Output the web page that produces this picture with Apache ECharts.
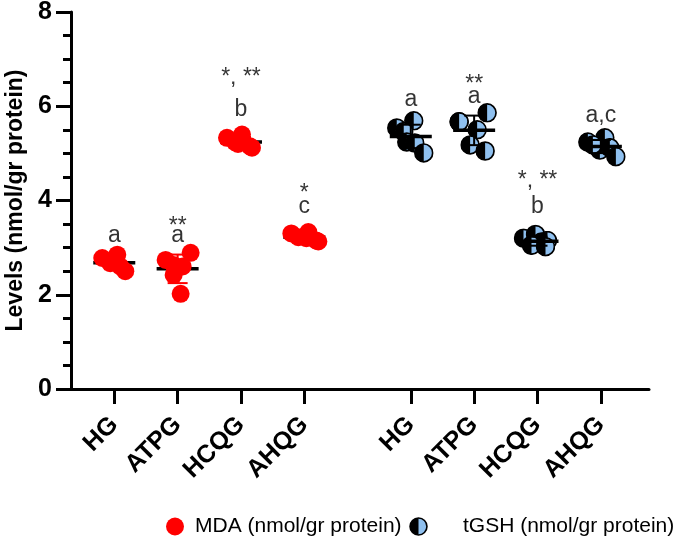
<!DOCTYPE html>
<html><head><meta charset="utf-8">
<script src="https://cdn.jsdelivr.net/npm/echarts@6/dist/echarts.min.js"></script>
<style>html,body{margin:0;padding:0;background:#fff}#c{width:685px;height:547px}</style>
</head><body><div id="c"></div>
<script>
// ---- data ----
const categories = ['HG', 'ATPG', 'HCQG', 'AHQG', 'HG', 'ATPG', 'HCQG', 'AHQG'];
const mdaGroups = [0, 1, 2, 3];
const tgshGroups = [4, 5, 6, 7];
const mdaValues = [
  [2.78, 2.85, 2.67, 2.60, 2.50],
  [2.74, 2.89, 2.63, 2.60, 2.42, 2.02],
  [5.33, 5.40, 5.24, 5.15, 5.12, 5.20],
  [3.30, 3.33, 3.22, 3.15, 3.13, 3.20]
];
const tgshValues = [
  [5.54, 5.69, 5.46, 5.24, 5.22, 5.01],
  [5.67, 5.50, 5.67, 5.86, 5.18, 5.05],
  [3.20, 3.28, 3.12, 3.15, 3.05, 3.02],
  [5.24, 5.33, 5.07, 5.12, 4.93, 5.18]
];
const letters = ['a', 'a', 'b', 'c', 'a', 'a', 'b', 'a,c'];
const stars = ['', '**', '*, **', '*', '', '**', '*, **', ''];
const yTickLabels = ['0', '2', '4', '6', '8'];

// ---- layout helpers (not data) ----
const groupPositions = [1, 2, 3, 4, 5.68, 6.68, 7.68, 8.68];
const mdaJitterPx = [[-12, 3, -4, 6, 11], [-12, 13, -4, 5, -4, 3], [-14, 1, -6, 9, 11, -3], [-13, 4, -6, 12, 14, 2]];
const tgshJitterPx = [[-14, 3, -7, -4, 4, 13], [-15, 3, -15, 13, -4, 11], [-14, -2, 4, 10, -6, 8], [-13, 4, -1, 9, 15, -8]];
const letterLevels = [3.25, 3.25, 5.92, 3.86, 6.15, 6.2, 3.86, 5.79];
const starLevels = [null, 3.45, 6.6, 4.15, null, 6.45, 4.42, null];

const FONT = '"Liberation Sans", Arial, sans-serif';
const RED = '#ff0000';
const BLUE = '#8fc0ef';

function mean(a) { return a.reduce((s, v) => s + v, 0) / a.length; }
function sd(a) { const m = mean(a); return Math.sqrt(a.reduce((s, v) => s + (v - m) * (v - m), 0) / (a.length - 1)); }

const svg = `<svg xmlns="http://www.w3.org/2000/svg" width="40" height="40" viewBox="0 0 40 40"><circle cx="20" cy="20" r="17.8" fill="${BLUE}"/><path d="M20 2.2 A17.8 17.8 0 0 0 20 37.8 Z" fill="#000"/><circle cx="20" cy="20" r="17.8" fill="none" stroke="#000" stroke-width="3.4"/></svg>`;
const halfIcon = 'image://data:image/svg+xml;charset=utf-8,' + encodeURIComponent(svg);

function scatterData(groups, values, jitter) {
  const out = [];
  groups.forEach((g, gi) => {
    values[gi].forEach((v, i) => {
      out.push({ value: [groupPositions[g], v], symbolOffset: [jitter[gi][i], 0] });
    });
  });
  return out;
}
function statData(groups, values) {
  return groups.map((g, gi) => [groupPositions[g], mean(values[gi]), sd(values[gi])]);
}
function meanSdRenderer(color) {
  return function (params, api) {
    const x = api.value(0), m = api.value(1), s = api.value(2);
    const c = api.coord([x, m]);
    const hi = api.coord([x, m + s]);
    const lo = api.coord([x, m - s]);
    const half = 21, cap = 10;
    return {
      type: 'group', children: [
        { type: 'line', shape: { x1: c[0], y1: hi[1], x2: c[0], y2: lo[1] }, style: { stroke: color, lineWidth: 2 } },
        { type: 'line', shape: { x1: c[0] - cap, y1: hi[1], x2: c[0] + cap, y2: hi[1] }, style: { stroke: color, lineWidth: 2 } },
        { type: 'line', shape: { x1: c[0] - cap, y1: lo[1], x2: c[0] + cap, y2: lo[1] }, style: { stroke: color, lineWidth: 2 } },
        { type: 'line', shape: { x1: c[0] - half, y1: c[1], x2: c[0] + half, y2: c[1] }, style: { stroke: '#000', lineWidth: 3.5 } }
      ]
    };
  };
}
const annotData = [];
categories.forEach((c, i) => {
  annotData.push({ name: letters[i], value: [groupPositions[i], letterLevels[i]] });
  if (stars[i]) annotData.push({ name: stars[i], value: [groupPositions[i], starLevels[i]] });
});

const chart = echarts.init(document.getElementById('c'), null, { renderer: 'canvas' });
chart.setOption({
  animation: false,
  backgroundColor: '#fff',
  textStyle: { fontFamily: FONT },
  grid: { left: 71, right: 36, top: 12, bottom: 158, containLabel: false, outerBoundsMode: 'none' },
  xAxis: {
    type: 'value', min: 0.317, max: 9.44,
    axisLine: { show: true, onZero: false, lineStyle: { color: '#000', width: 3 } },
    splitLine: { show: false },
    axisTick: { show: true, customValues: groupPositions, length: 15, lineStyle: { color: '#000', width: 3 } },
    axisLabel: {
      customValues: groupPositions,
      formatter: function (v) {
        let best = 0, bd = 1e9;
        groupPositions.forEach((p, i) => { const d = Math.abs(p - v); if (d < bd) { bd = d; best = i; } });
        return categories[best];
      },
      rotate: 45, margin: 32, fontSize: 25, fontWeight: 'bold', color: '#000', fontFamily: FONT
    }
  },
  yAxis: {
    type: 'value', min: 0, max: 8, interval: 2,
    axisLine: { show: true, lineStyle: { color: '#000', width: 3 } },
    axisTick: { show: true, length: 15, lineStyle: { color: '#000', width: 3 } },
    minorTick: { show: true, splitNumber: 4, length: 8, lineStyle: { color: '#000', width: 3 } },
    splitLine: { show: false },
    axisLabel: { margin: 19, fontSize: 25, fontWeight: 'bold', color: '#000', fontFamily: FONT,
      formatter: v => yTickLabels[Math.round(v / 2)] },
    name: 'Levels (nmol/gr protein)', nameLocation: 'middle', nameGap: 44,
    nameTextStyle: { fontSize: 23, fontWeight: 'bold', color: '#000', fontFamily: FONT }
  },
  legend: [
    {
      data: [{ name: 'MDA (nmol/gr protein)', icon: 'circle' }],
      left: 161, top: 511, itemWidth: 18, itemHeight: 18, selectedMode: false,
      textStyle: { fontSize: 21, color: '#000', fontFamily: FONT, padding: [0, 0, 0, 6] }
    },
    {
      data: [{ name: 'tGSH (nmol/gr protein)', icon: halfIcon }],
      left: 404, top: 511, itemWidth: 19, itemHeight: 19, selectedMode: false,
      textStyle: { fontSize: 21, color: '#000', fontFamily: FONT, padding: [0, 0, 0, 30] }
    }
  ],
  series: [
    {
      name: 'MDA stats', type: 'custom', z: 1, silent: true,
      renderItem: meanSdRenderer(RED), encode: { x: 0, y: 1 },
      data: statData(mdaGroups, mdaValues)
    },
    {
      name: 'MDA (nmol/gr protein)', type: 'scatter', z: 2, silent: true,
      symbol: 'circle', symbolSize: 18, itemStyle: { color: RED, opacity: 1 },
      data: scatterData(mdaGroups, mdaValues, mdaJitterPx)
    },
    {
      name: 'tGSH (nmol/gr protein)', type: 'scatter', z: 2, silent: true,
      symbol: halfIcon, symbolSize: 20, itemStyle: { color: BLUE, opacity: 1 },
      data: scatterData(tgshGroups, tgshValues, tgshJitterPx)
    },
    {
      name: 'tGSH stats', type: 'custom', z: 3, silent: true,
      renderItem: meanSdRenderer('#000'), encode: { x: 0, y: 1 },
      data: statData(tgshGroups, tgshValues)
    },
    {
      name: 'annotations', type: 'scatter', z: 4, silent: true,
      symbol: 'circle', symbolSize: 1, itemStyle: { color: 'rgba(0,0,0,0)' },
      label: { show: true, position: 'inside', formatter: '{b}', fontSize: 23, color: '#000', fontFamily: FONT },
      data: annotData
    }
  ]
});
</script>
</body></html>
